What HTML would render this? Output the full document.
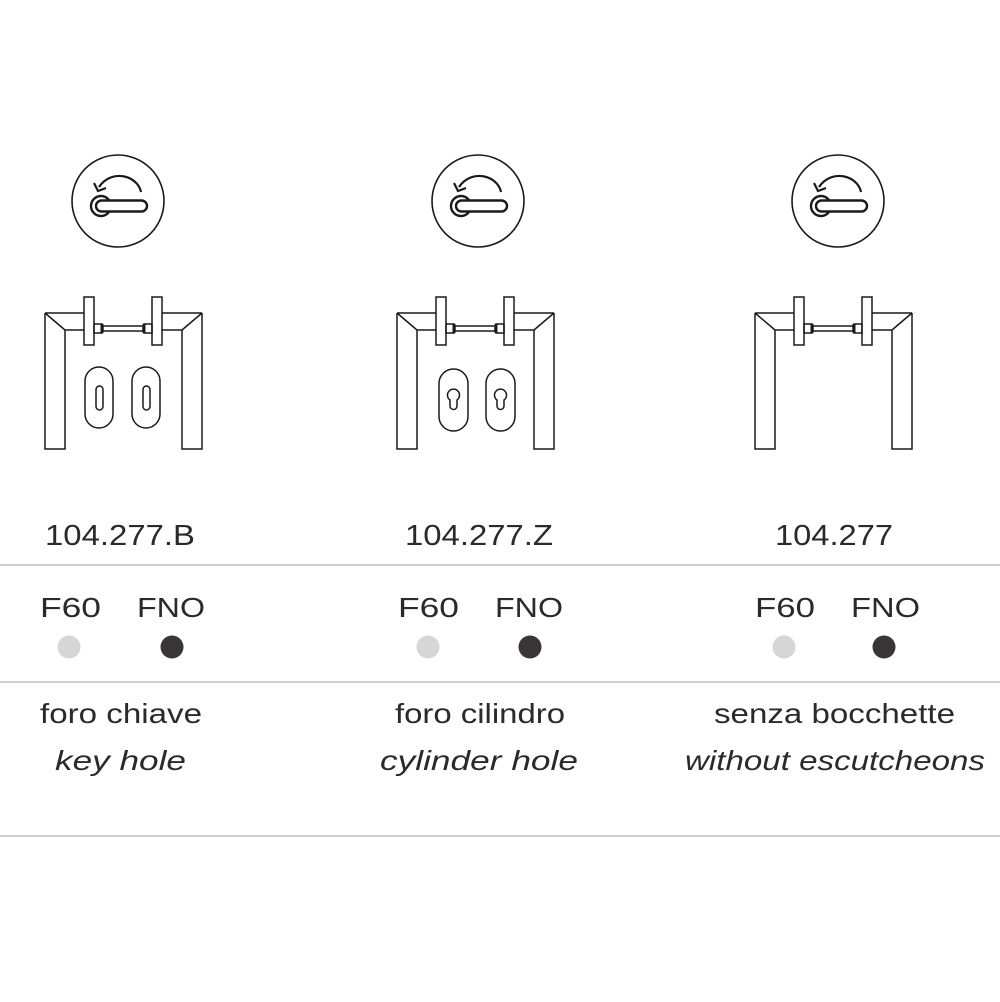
<!DOCTYPE html>
<html><head><meta charset="utf-8"><style>
html,body{margin:0;padding:0;background:#fff}
svg{display:block}
text{font-family:"Liberation Sans",sans-serif;fill:#2a2a2a}
</style></head><body>
<svg width="1000" height="1002" viewBox="0 0 1000 1002" xmlns="http://www.w3.org/2000/svg">
<defs>
<g id="icon" fill="none" stroke="#1a1a1a">
  <circle cx="118" cy="201" r="46" stroke-width="1.6"/>
  <circle cx="101" cy="206" r="10" stroke-width="2.4"/>
  <rect x="96" y="200.5" width="51" height="11" rx="5.5" fill="#fff" stroke-width="2.4"/>
  <path d="M141 192 C138 176 112 168 99 187" stroke-width="2.2"/>
  <path d="M94 183 L98 191 L106 188" stroke-width="2.2"/>
</g>
<g id="frame" fill="none" stroke="#1a1a1a" stroke-width="1.5">
  <path d="M45 313 H84 M45 313 V449 H65 V330 H84 M45 313 L65 330"/>
  <path d="M202 313 H162 M202 313 V449 H182 V330 H162 M202 313 L182 330"/>
  <rect x="84" y="297" width="10" height="48" fill="#fff"/>
  <rect x="152" y="297" width="10" height="48" fill="#fff"/>
  <rect x="94" y="324" width="8" height="9"/>
  <rect x="144" y="324" width="8" height="9"/>
  <line x1="102" y1="324" x2="102" y2="333" stroke-width="3"/>
  <line x1="144" y1="324" x2="144" y2="333" stroke-width="3"/>
  <rect x="103" y="326" width="40" height="5"/>
</g>
</defs>

<use href="#icon"/>
<use href="#frame"/>
<g fill="none" stroke="#1a1a1a" stroke-width="1.5">
  <rect x="85" y="367" width="28" height="61" rx="14"/>
  <rect x="132" y="367" width="28" height="61" rx="14"/>
  <rect x="96" y="386" width="7" height="24" rx="3.5"/>
  <rect x="143" y="386" width="7" height="24" rx="3.5"/>
</g>

<use href="#icon" transform="translate(360,0)"/>
<use href="#frame" transform="translate(352,0)"/>
<g fill="none" stroke="#1a1a1a" stroke-width="1.5">
  <rect x="439" y="369" width="29" height="62" rx="14.5"/>
  <rect x="486" y="369" width="29" height="62" rx="14.5"/>
  <path d="M450 406 V400 A6 6 0 1 1 457 400 V406 A3.5 3.5 0 0 1 450 406 Z"/>
  <path d="M497 406 V400 A6 6 0 1 1 504 400 V406 A3.5 3.5 0 0 1 497 406 Z"/>
</g>

<use href="#icon" transform="translate(720,0)"/>
<use href="#frame" transform="translate(710,0)"/>

<g stroke="#b0b0b0" stroke-width="1.2">
  <line x1="0" y1="565" x2="1000" y2="565"/>
  <line x1="0" y1="682" x2="1000" y2="682"/>
  <line x1="0" y1="836" x2="1000" y2="836"/>
</g>

<g font-size="29">
  <text x="45" y="545" textLength="150" lengthAdjust="spacingAndGlyphs">104.277.B</text>
  <text x="405" y="545" textLength="148" lengthAdjust="spacingAndGlyphs">104.277.Z</text>
  <text x="775" y="545" textLength="118" lengthAdjust="spacingAndGlyphs">104.277</text>
</g>
<g font-size="28">
  <text x="40" y="617" textLength="61" lengthAdjust="spacingAndGlyphs">F60</text>
  <text x="137" y="617" textLength="68" lengthAdjust="spacingAndGlyphs">FNO</text>
  <text x="398" y="617" textLength="61" lengthAdjust="spacingAndGlyphs">F60</text>
  <text x="495" y="617" textLength="68" lengthAdjust="spacingAndGlyphs">FNO</text>
  <text x="755" y="617" textLength="60" lengthAdjust="spacingAndGlyphs">F60</text>
  <text x="851" y="617" textLength="69" lengthAdjust="spacingAndGlyphs">FNO</text>
</g>
<g>
  <circle cx="69" cy="647" r="11.5" fill="#d6d6d6"/>
  <circle cx="172" cy="647" r="11.5" fill="#3a3536"/>
  <circle cx="428" cy="647" r="11.5" fill="#d6d6d6"/>
  <circle cx="530" cy="647" r="11.5" fill="#3a3536"/>
  <circle cx="784" cy="647" r="11.5" fill="#d6d6d6"/>
  <circle cx="884" cy="647" r="11.5" fill="#3a3536"/>
</g>
<g font-size="28">
  <text x="40" y="723" textLength="162" lengthAdjust="spacingAndGlyphs">foro chiave</text>
  <text x="395" y="723" textLength="170" lengthAdjust="spacingAndGlyphs">foro cilindro</text>
  <text x="714" y="723" textLength="241" lengthAdjust="spacingAndGlyphs">senza bocchette</text>
</g>
<g font-size="28" font-style="italic">
  <text x="55" y="770" textLength="131" lengthAdjust="spacingAndGlyphs">key hole</text>
  <text x="380" y="770" textLength="198" lengthAdjust="spacingAndGlyphs">cylinder hole</text>
  <text x="685" y="770" textLength="300" lengthAdjust="spacingAndGlyphs">without  escutcheons</text>
</g>
</svg>
</body></html>
